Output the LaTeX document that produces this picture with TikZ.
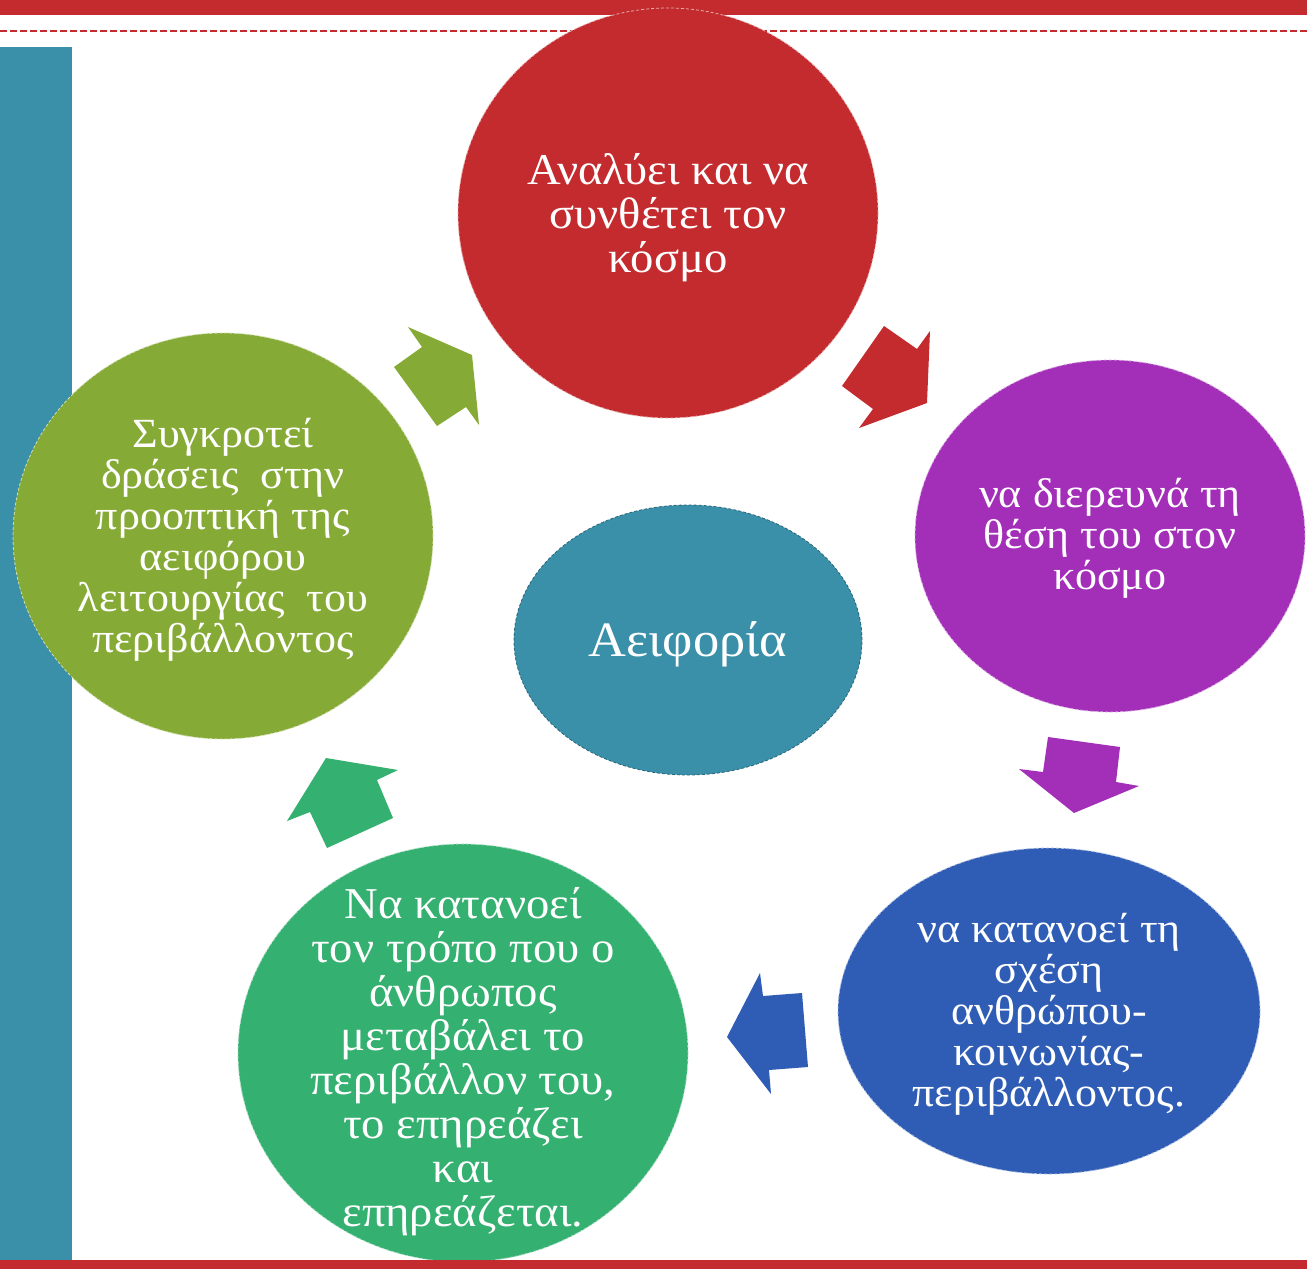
\documentclass[tikz,border=0pt]{standalone}
\usepackage{fontspec}
\setmainfont{Liberation Serif}[FakeStretch=1.06]
\usetikzlibrary{shapes.geometric}
\definecolor{cred}{RGB}{195,43,46}
\definecolor{cpurple}{RGB}{163,47,184}
\definecolor{cblue}{RGB}{47,93,181}
\definecolor{cgreen}{RGB}{52,176,112}
\definecolor{colive}{RGB}{134,170,54}
\definecolor{cteal}{RGB}{58,144,168}
\definecolor{cteald}{RGB}{40,100,122}
\tikzset{
  bubble/.style={ellipse, inner sep=0pt, dashed, line width=0.8pt, dash pattern=on 3pt off 2pt},
  txt/.style={inner sep=0pt, text=white, align=center},
  big/.style={txt, font=\fontsize{44}{44}\selectfont},
  mid/.style={txt, font=\fontsize{41.5}{41}\selectfont},
}
\begin{document}
\begin{tikzpicture}[x=1pt,y=-1pt]
\useasboundingbox (0,0) rectangle (1307,1269);
\fill[white] (0,0) rectangle (1307,1269);
% frame
\fill[cred] (0,0) rectangle (1307,15);
\draw[cred, line width=2.5pt, dash pattern=on 7pt off 3pt] (0,31) -- (1307,31);
\fill[cteal] (0,47) rectangle (72,1260);
% bubbles
\node[bubble, fill=cred, draw=cred!40!white, minimum width=420pt, minimum height=410pt] (red) at (668,213) {};
\node[big] (redtext) at ([yshift=-5pt]red.center) {Αναλύει και να\\συνθέτει τον\\κόσμο};
\node[bubble, fill=cpurple, draw=cpurple!40!white, minimum width=390pt, minimum height=352pt] (purple) at (1110,536) {};
\node[mid] (purpletext) at ([yshift=-2pt]purple.center) {να διερευνά τη\\θέση του στον\\κόσμο};
\node[bubble, fill=cblue, draw=cblue!40!white, minimum width=422pt, minimum height=326pt] (blue) at (1049,1011) {};
\node[mid] (bluetext) at ([yshift=-3pt]blue.center) {να κατανοεί τη\\σχέση\\ανθρώπου-\\κοινωνίας-\\περιβάλλοντος.};
\node[bubble, fill=cgreen, draw=cgreen!40!white, minimum width=450pt, minimum height=418pt] (green) at (463,1053) {};
\node[big] (greentext) at ([yshift=-9pt]green.center) {Να κατανοεί\\τον τρόπο που ο\\άνθρωπος\\μεταβάλει το\\περιβάλλον του,\\το επηρεάζει\\και\\επηρεάζεται.};
\node[bubble, fill=colive, draw=colive!40!white, minimum width=420pt, minimum height=406pt] (olive) at (223,536) {};
\node[mid] (olivetext) at ([yshift=-4pt]olive.center) {Συγκροτεί\\δράσεις\ \ στην\\προοπτική της\\αειφόρου\\λειτουργίας\ \ του\\περιβάλλοντος};
\node[bubble, fill=cteal, draw=cteald, minimum width=348pt, minimum height=270pt] (center) at (688,640) {};
\node[txt, font=\fontsize{49.5}{50}\selectfont] (centertext) at ([yshift=-4pt]center.center) {Αειφορία};
% block arrows
\fill[colive] (408,327) -- (422,347) -- (394,367) -- (437,426) -- (466,407) -- (479,425) -- (472,355) -- cycle;
\fill[cred] (884,326) -- (917,349) -- (930,331) -- (927,403) -- (859,428) -- (873,409) -- (842,386) -- cycle;
\fill[cpurple] (1048,737) -- (1120,747) -- (1116,782) -- (1139,786) -- (1074,813) -- (1019,769) -- (1043,772) -- cycle;
\fill[cblue] (760,973) -- (763,996) -- (802,993) -- (808,1067) -- (769,1070) -- (771,1094) -- (727,1037) -- cycle;
\fill[cgreen] (326,758) -- (398,770) -- (377,780) -- (393,818) -- (327,848) -- (310,812) -- (287,821) -- cycle;
% bottom bar on top
\fill[cred] (0,1260) rectangle (1307,1269);
\end{tikzpicture}
\end{document}
